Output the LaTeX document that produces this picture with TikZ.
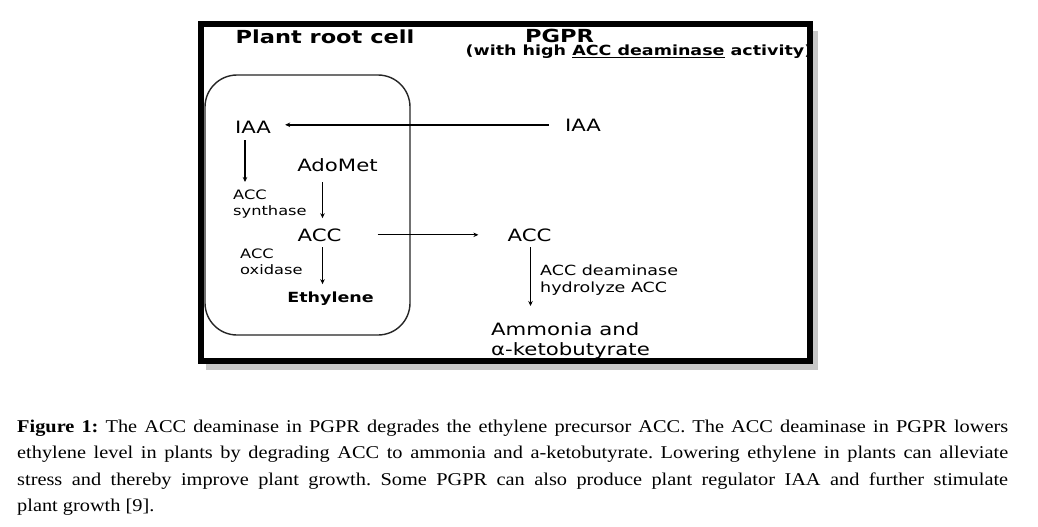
\documentclass[tikz,border=0pt]{standalone}
\usepackage{fontspec}
\setmainfont{Liberation Serif}[FakeStretch=1.13]
\newfontfamily\dfont[FakeStretch=1.25]{DejaVu Sans}
\usepackage{tikz}
\usetikzlibrary{arrows.meta,positioning}
\tikzstyle{arr}=[-{Stealth[length=5pt,width=4.5pt]},line width=1.3pt]
\tikzstyle{ttl}=[inner sep=0pt,font=\dfont\bfseries\fontsize{18}{21}\selectfont]
\tikzstyle{sub}=[inner sep=0pt,font=\dfont\bfseries\fontsize{14}{17}\selectfont]
\tikzstyle{chem}=[inner sep=0pt,font=\dfont\fontsize{17}{20}\selectfont]
\tikzstyle{enz}=[inner sep=0pt,align=left,font=\dfont\fontsize{13}{16}\selectfont]
\tikzstyle{deam}=[inner sep=0pt,align=left,font=\dfont\fontsize{14}{17}\selectfont]

\begin{document}
\begin{tikzpicture}[x=1pt,y=-1pt]
	\useasboundingbox (0,0) rectangle (1038,527);
	\fill[white] (0,0) rectangle (1038,527);
	% shadow of the frame
	\draw[line width=6pt,black!22] (815,31) -- (815,367) -- (206,367);
	% titles
	\node[ttl,anchor=base] (cell) at (325,43.5) {Plant root cell};
	\node[ttl,anchor=base] (pgpr) at (559.5,42.5) {PGPR};
	\node[sub,anchor=base] (act) at (639,55.5) {(with high \underline{ACC deaminase} activity)};
	% the cell
	\draw[rounded corners=32pt,line width=1.4pt,black!85] (205,75) rectangle (410,335);
	\node[chem,anchor=base] (iaa1) at (253,133) {IAA};
	\node[chem,anchor=base] (iaa2) at (583,131) {IAA};
	\node[chem,anchor=base] (ado) at (337.5,171) {AdoMet};
	\node[chem,anchor=base] (acc1) at (319.5,241) {ACC};
	\node[chem,anchor=base] (acc2) at (529.5,241) {ACC};
	\node[sub,anchor=base] (eth) at (330.5,302) {Ethylene};
	\node[enz,anchor=north west] (syn) at (233,190) {ACC\\synthase};
	\node[enz,anchor=north west] (oxi) at (240,249) {ACC\\oxidase};
	\node[deam,anchor=north west] (hyd) at (540,265) {ACC deaminase\\hydrolyze ACC};
	\node[chem,align=left,anchor=north west] (amm) at (491,322) {Ammonia and\\α-ketobutyrate};
	% arrows
	\draw[arr,line width=1.8pt,shorten <=16pt,shorten >=14pt] (iaa2.west) -- (iaa2.west -| iaa1.east);
	\draw[arr,shorten <=7pt,shorten >=8pt] ([xshift=-8pt]iaa1.south) -- ([xshift=-8pt]iaa1.south |- syn.north);
	\draw[arr,shorten <=11pt,shorten >=10pt] ([xshift=3pt]acc1.north |- ado.south) -- ([xshift=3pt]acc1.north);
	\draw[arr,shorten <=6pt,shorten >=7pt] ([xshift=3pt]acc1.south) -- ([xshift=3pt]acc1.south |- eth.north);
	\draw[arr,shorten <=36pt,shorten >=29pt] (acc1.east) -- (acc2.west);
	\draw[arr,shorten <=6pt,shorten >=16pt] ([xshift=1pt]acc2.south) -- ([xshift=1pt]acc2.south |- amm.north);
	% frame
	\draw[line width=6pt] (200.5,24.5) rectangle (809.5,361);
	% caption
	\node[anchor=north west,inner sep=0pt,text width=991pt,align=justify,
	  font=\fontsize{18}{26.5}\selectfont\frenchspacing] (cap) at (17,413.45)
	  {\strut\textbf{Figure 1:} The ACC deaminase in PGPR degrades the ethylene precursor ACC. The ACC deaminase in PGPR lowers\linebreak
	  ethylene level in plants by degrading ACC to ammonia and a-ketobutyrate. Lowering ethylene in plants can alleviate\linebreak
	  stress and thereby improve plant growth. Some PGPR can also produce plant regulator IAA and further stimulate\linebreak
	  plant growth [9].};
\end{tikzpicture}
\end{document}
